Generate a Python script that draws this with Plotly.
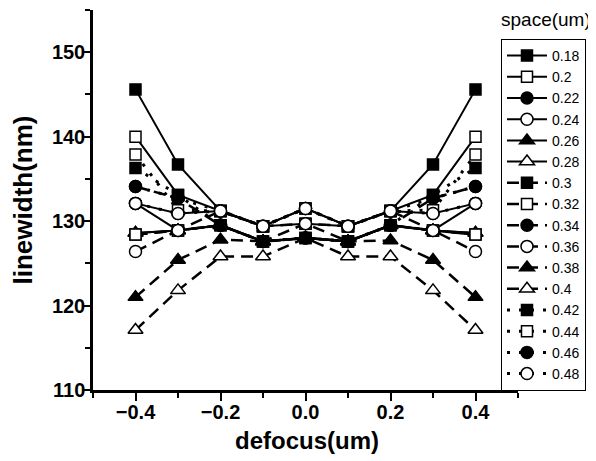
import plotly.graph_objects as go

defocus = [-0.4, -0.3, -0.2, -0.1, 0.0, 0.1, 0.2, 0.3, 0.4]

space_labels = ["0.18", "0.2", "0.22", "0.24", "0.26", "0.28", "0.3", "0.32",
                "0.34", "0.36", "0.38", "0.4", "0.42", "0.44", "0.46", "0.48"]

lw_018 = [145.6, 136.7, 131.2, 129.4, 131.5, 129.4, 131.2, 136.7, 145.6]
lw_020 = [140.0, 133.1, 131.2, 129.4, 129.7, 129.4, 131.2, 133.1, 140.0]
lw_022 = [132.1, 128.9, 129.5, 127.6, 128.0, 127.6, 129.5, 128.9, 132.1]
lw_024 = [132.1, 130.9, 131.2, 129.4, 131.5, 129.4, 131.2, 130.9, 132.1]
lw_026 = [128.6, 128.9, 129.5, 127.6, 128.0, 127.6, 129.5, 128.9, 128.6]
lw_028 = [128.6, 128.9, 129.5, 127.6, 128.0, 127.6, 129.5, 128.9, 128.6]
lw_030 = [128.4, 128.9, 129.5, 127.6, 128.0, 127.6, 129.5, 128.9, 128.4]
lw_032 = [128.4, 128.9, 131.2, 129.4, 129.7, 129.4, 131.2, 128.9, 128.4]
lw_034 = [134.1, 132.7, 129.5, 127.6, 128.0, 127.6, 129.5, 132.7, 134.1]
lw_036 = [126.4, 128.9, 129.5, 127.6, 129.7, 127.6, 129.5, 128.9, 126.4]
lw_038 = [121.0, 125.4, 127.8, 127.6, 128.0, 127.6, 127.7, 125.4, 121.0]
lw_040 = [117.1, 121.8, 125.8, 125.8, 128.0, 125.8, 125.8, 121.8, 117.1]
lw_042 = [136.3, 133.1, 129.5, 127.6, 128.0, 127.6, 129.5, 133.1, 136.3]
lw_044 = [137.9, 131.3, 131.2, 129.4, 131.5, 129.4, 131.2, 131.3, 137.9]
lw_046 = [134.1, 132.7, 131.2, 129.4, 131.5, 129.4, 131.2, 132.7, 134.1]
lw_048 = [132.1, 130.9, 131.2, 129.4, 131.5, 129.4, 131.2, 130.9, 132.1]

series = [lw_018, lw_020, lw_022, lw_024, lw_026, lw_028, lw_030, lw_032,
          lw_034, lw_036, lw_038, lw_040, lw_042, lw_044, lw_046, lw_048]

sym6 = ["square", "square", "circle", "circle", "triangle-up", "triangle-up"]
filled6 = [True, False, True, False, True, False]

FONT = "Liberation Sans, Arial, Helvetica, sans-serif"

fig = go.Figure()
for i, (lab, vals) in enumerate(zip(space_labels, series)):
    if i < 6:
        k = i
        dash = "solid"
        width = 2
    elif i < 12:
        k = i - 6
        dash = "12px,7px"
        width = 2.5
    else:
        k = i - 12
        dash = "3px,9px"
        width = 3
    sym = sym6[k]
    filled = filled6[k]
    size = 13 if sym == "triangle-up" else (11 if sym == "square" else 12)
    fig.add_trace(go.Scatter(
        x=defocus, y=vals, name=lab, mode="lines+markers",
        line=dict(color="black", width=width, dash=dash),
        marker=dict(symbol=sym, size=size,
                    color="black" if filled else "white",
                    line=dict(color="black", width=1.5)),
    ))

axis_common = dict(
    showline=True, linecolor="black", linewidth=2.5, mirror=False,
    showgrid=False, zeroline=False, ticks="outside", ticklen=8, tickwidth=2,
    tickcolor="black", automargin=False,
    tickfont=dict(family=FONT, size=20, color="black", weight="bold"),
)

fig.update_xaxes(
    range=[-0.5, 0.5], tickmode="linear", tick0=-0.4, dtick=0.2, tickformat=".1f",
    minor=dict(ticks="outside", ticklen=5, tickwidth=2, tickcolor="black", dtick=0.1, tick0=-0.5),
    ticklabelstandoff=-6,
    **axis_common,
)
fig.update_yaxes(
    range=[110, 155], tickmode="linear", tick0=110, dtick=10,
    minor=dict(ticks="outside", ticklen=5, tickwidth=2, tickcolor="black", dtick=5, tick0=110),
    ticklabelstandoff=-7,
    title=dict(text="linewidth(nm)", font=dict(family=FONT, size=26, color="black", weight="bold"),
               standoff=14),
    **axis_common,
)

# page body has an 8px margin: figure is sized/offset so the plot lands at the reference position
fig.update_layout(
    width=588, height=453,
    margin=dict(l=85, r=78, t=2, b=71, autoexpand=False),
    paper_bgcolor="white", plot_bgcolor="white",
    showlegend=True,
    legend=dict(
        x=0.96, y=0.9237, xanchor="left", yanchor="top",
        bordercolor="black", borderwidth=1, bgcolor="white",
        font=dict(family=FONT, size=14, color="black"),
        itemwidth=40, tracegroupgap=0,
    ),
    annotations=[
        dict(text="space(um)", x=1.066, y=0.974, xref="paper", yref="paper",
             showarrow=False, xanchor="center", yanchor="middle",
             font=dict(family=FONT, size=19, color="black")),
        dict(text="defocus(um)", x=0.5035, y=-0.1316, xref="paper", yref="paper",
             showarrow=False, xanchor="center", yanchor="middle",
             font=dict(family=FONT, size=24, color="black", weight="bold")),
    ],
)

fig.write_html("out.html")
